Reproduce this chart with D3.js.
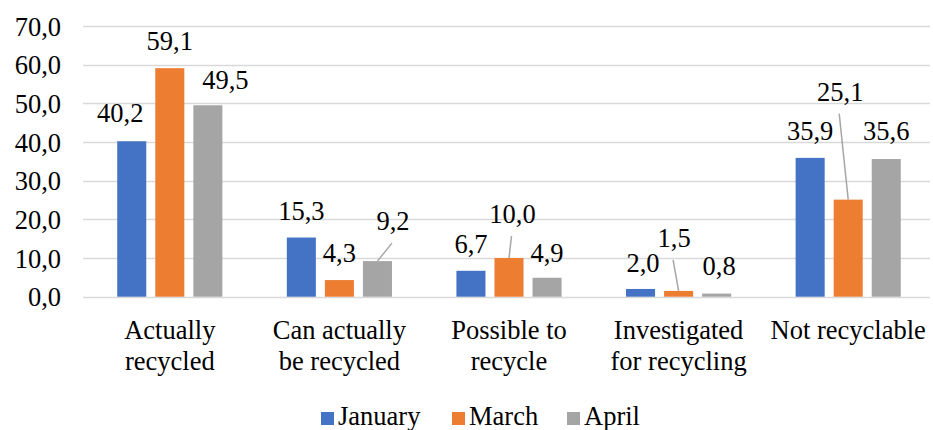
<!DOCTYPE html>
<html>
<head>
<meta charset="utf-8">
<script src="https://cdn.jsdelivr.net/npm/d3@7"></script>
</head>
<body style="margin:0;padding:0;background:#fff">
<svg id="viz" width="933" height="430"></svg>
<script>
// ---- data ----
const categories = [
  ["Actually", "recycled"],
  ["Can actually", "be recycled"],
  ["Possible to", "recycle"],
  ["Investigated", "for recycling"],
  ["Not recyclable"]
];
const seriesNames = ["January", "March", "April"];
const january = [40.2, 15.3, 6.7, 2.0, 35.9];
const march   = [59.1, 4.3, 10.0, 1.5, 25.1];
const april   = [49.5, 9.2, 4.9, 0.8, 35.6];
const yTicks  = [0, 10, 20, 30, 40, 50, 60, 70];

// ---- layout (label placement, in px, per series per category) ----
const labelDx = [
  [-11.5, 0, 0, 2.5, 0],
  [0, 0, 3.5, -4.5, -8],
  [17.5, 15.5, 0, 2.5, 0]
];
const labelDy = [
  [-19, -17.5, -18, -17, -18],
  [-18, -18, -35, -44, -99],
  [-16, -31, -16, -18.6, -19]
];
const leader = [
  [false, false, false, false, false],
  [false, false, true, true, true],
  [false, true, false, false, false]
];

const FONT = "Liberation Serif";
const FS = 26.5;
const colors = ["#4472C4", "#ED7D31", "#A5A5A5"];
const values = [january, march, april];
const fmt = v => d3.format(".1f")(v).replace(".", ",");
const setFont = sel => sel
  .attr("font-family", FONT).attr("font-size", FS)
  .style("font-family", "'" + FONT + "'", "important")
  .style("font-size", FS + "px", "important");

const svg = d3.select("#viz").attr("font-family", FONT);
const plotLeft = 85, plotRight = 933, plotTop = 26, plotBottom = 296.7;

const y = d3.scaleLinear().domain([0, 70]).range([plotBottom, plotTop]);
const x0 = d3.scaleBand().domain(d3.range(categories.length)).range([plotLeft, plotRight])
  .paddingInner(0.38).paddingOuter(0.19);
const x1 = d3.scaleBand().domain(d3.range(seriesNames.length)).range([0, x0.bandwidth()])
  .paddingInner(0.237).paddingOuter(0);

// gridlines
svg.append("g").selectAll("line").data(yTicks).join("line")
  .attr("x1", 83).attr("x2", 930)
  .attr("y1", d => Math.round(y(d)) + 0.5).attr("y2", d => Math.round(y(d)) + 0.5)
  .attr("stroke", "#d9d9d9").attr("stroke-width", 1.3);

// y axis labels
const yAxis = d3.axisLeft(y).tickValues(yTicks).tickFormat(fmt).tickSize(0).tickPadding(0);
const ya = svg.append("g").attr("transform", "translate(61,0)").call(yAxis);
ya.attr("font-family", FONT).attr("font-size", FS);
ya.select(".domain").remove();
ya.selectAll("text").call(setFont).attr("fill", "#000").attr("dy", "0.34em");

// bars
const groups = svg.append("g").selectAll("g").data(categories).join("g")
  .attr("transform", (d, i) => `translate(${x0(i)},0)`);
groups.each(function(c, ci) {
  const g = d3.select(this);
  seriesNames.forEach((s, si) => {
    const v = values[si][ci];
    g.append("rect")
      .attr("x", x1(si)).attr("width", x1.bandwidth())
      .attr("y", y(v)).attr("height", y(0) - y(v))
      .attr("fill", colors[si]);
  });
});

// data labels and leader lines
const lab = svg.append("g");
seriesNames.forEach((s, si) => {
  categories.forEach((c, ci) => {
    const v = values[si][ci];
    const bx = x0(ci) + x1(si) + x1.bandwidth() / 2;
    const by = y(v);
    const lx = bx + labelDx[si][ci];
    const ly = by + labelDy[si][ci];
    if (leader[si][ci]) {
      lab.append("line")
        .attr("x1", lx - 1).attr("y1", ly + 13)
        .attr("x2", bx).attr("y2", by)
        .attr("stroke", "#a6a6a6").attr("stroke-width", 1.5);
    }
    lab.append("text")
      .attr("x", lx).attr("y", ly)
      .attr("text-anchor", "middle")
      .call(setFont)
      .attr("fill", "#000")
      .text(fmt(v));
  });
});

// category labels
const xAxisG = svg.append("g");
categories.forEach((lines, ci) => {
  const cx = x0(ci) + x0.bandwidth() / 2;
  const t = xAxisG.append("text").attr("text-anchor", "middle")
    .call(setFont).attr("fill", "#000");
  lines.forEach((ln, li) => {
    t.append("tspan").attr("x", cx).attr("y", 339 + li * 31).text(ln);
  });
});

// legend
const legendX = [321, 452, 567];
const leg = svg.append("g");
seriesNames.forEach((s, si) => {
  leg.append("rect").attr("x", legendX[si]).attr("y", 412)
    .attr("width", 13).attr("height", 13).attr("fill", colors[si]);
  leg.append("text").attr("x", legendX[si] + 17).attr("y", 425)
    .call(setFont)
    .attr("fill", "#000").text(s);
});
</script>
</body>
</html>
